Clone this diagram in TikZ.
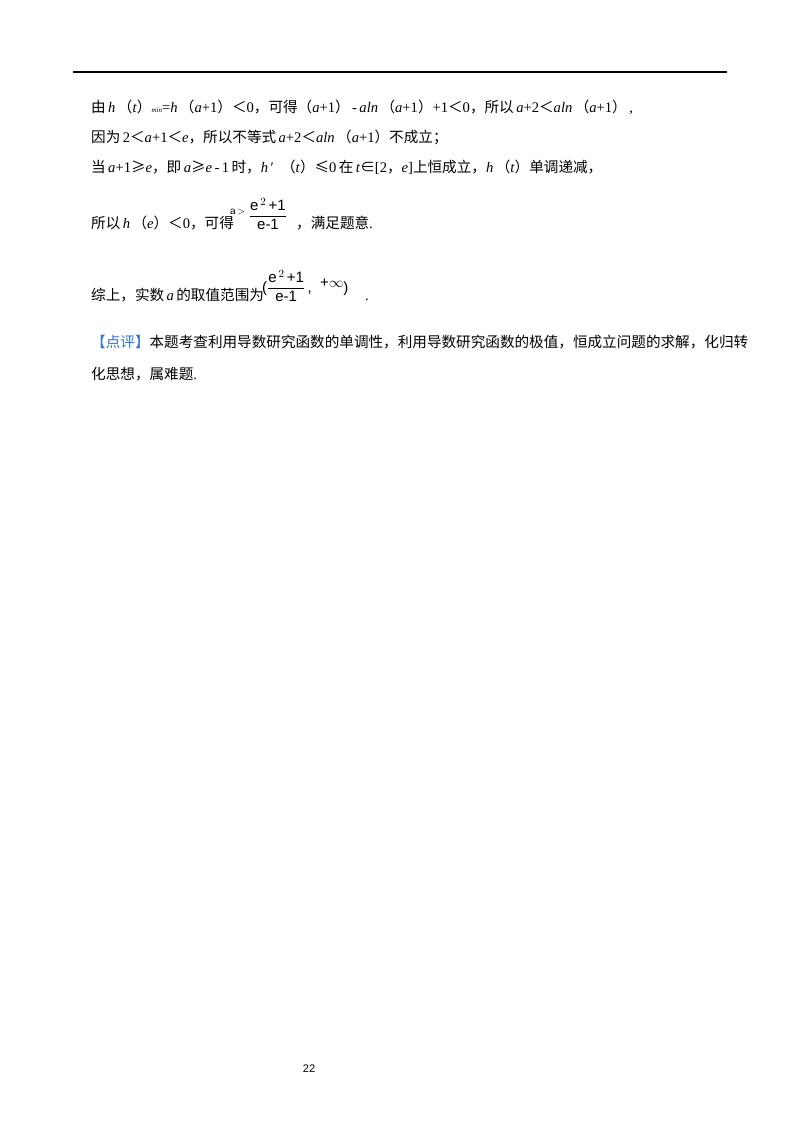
\documentclass[tikz,border=0pt]{standalone}
\usepackage{fontspec}
\setmainfont{Liberation Serif}
\newfontfamily\cjk{Noto Sans CJK SC}
\newfontfamily\ar{Liberation Sans}
\newcommand{\lt}{{\cjk ＜}}
\begin{document}
\begin{tikzpicture}[x=1pt,y=-1pt,
  ln/.style={anchor=base west,inner sep=0pt,font=\fontsize{14.6}{16}\selectfont},
  fr/.style={inner sep=0pt,font=\ar\fontsize{15}{17}\selectfont}]
\useasboundingbox[fill=white] (0,0) rectangle (800,1132);
\draw[line width=1.6pt] (73,72) -- (727,72);
\node[ln] (l1) at (91,112) {{\cjk 由}\,\textit{h}\,{\cjk（}\textit{t}{\cjk）}{\scriptsize\textit{min}}={\textit{h}}\,{\cjk（}\textit{a}+1{\cjk）}\lt0{\cjk，可得（}\textit{a}+1{\cjk）}\,-\,\textit{aln}\,{\cjk（}\textit{a}+1{\cjk）}+1\lt0{\cjk，所以}\,\textit{a}+2\lt\textit{aln}\,{\cjk（}\textit{a}+1{\cjk）}\,,};
\node[ln] (l2) at (91,142) {{\cjk 因为}\,2\lt\textit{a}+1\lt\textit{e}{\cjk，所以不等式}\,\textit{a}+2\lt\textit{aln}\,{\cjk（}\textit{a}+1{\cjk）不成立；}};
\node[ln] (l3) at (91,172) {{\cjk 当}\,\textit{a}+1{\cjk ≥}\textit{e}{\cjk，即}\,\textit{a}{\cjk ≥}\textit{e}\,-\,1\,{\cjk 时，}\textit{h}\,′\ \ {\cjk（}\textit{t}{\cjk）}{\cjk ≤}0\,{\cjk 在}\,\textit{t}{\cjk∈}[2{\cjk，}\textit{e}]{\cjk 上恒成立，}\textit{h}\,{\cjk（}\textit{t}{\cjk）单调递减，}};
\node[ln] (l4) at (91,228) {{\cjk 所以}\,\textit{h}\,{\cjk（}\textit{e}{\cjk）}\lt0{\cjk，可得}};
\node[inner sep=0pt,anchor=base west,font=\ar\fontsize{10}{11}\selectfont] (fa) at (230,214) {a\,$>$};
\node[fr] (f1) at (268,214) {$\displaystyle\frac{\mbox{e}^{\,2}\,\mbox{+1}}{\mbox{e-1}}$};
\node[ln] (l4b) at (296,228) {{\cjk ，满足题意}.};
\node[ln] (l5) at (91,300) {{\cjk 综上，实数}\,\textit{a}\,{\cjk 的取值范围为}};
\node[fr,anchor=west] (f2) at (262,286) {($\displaystyle\frac{\mbox{e}^{\,2}\,\mbox{+1}}{\mbox{e-1}}$\,,\ \ \raisebox{5pt}{+$\infty$})};
\node[ln] (l5b) at (365,300) {.};
\node[ln] (l6) at (91,347) {{\cjk\color[HTML]{2E75D6}【点评】}{\cjk 本题考查利用导数研究函数的单调性，利用导数研究函数的极值，恒成立问题的求解，化归转}};
\node[ln] (l7) at (91,379) {{\cjk 化思想，属难题}.};
\node[inner sep=0pt,font=\ar\fontsize{11}{12}\selectfont] (pg) at (309,1069) {22};
\end{tikzpicture}
\end{document}
